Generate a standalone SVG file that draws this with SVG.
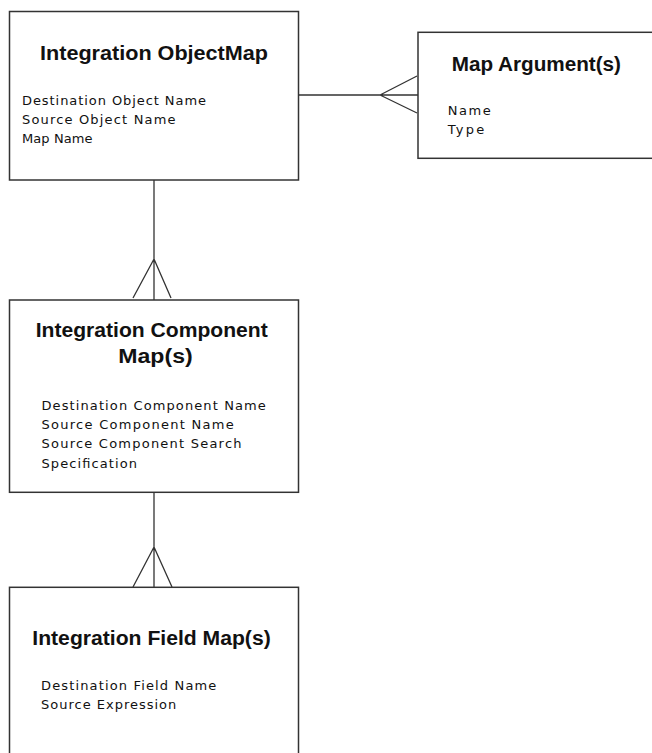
<svg xmlns="http://www.w3.org/2000/svg" width="652" height="753" viewBox="0 0 652 753">
<style>
.box{fill:#fff;stroke:#333;stroke-width:1.5}
.conn{fill:none;stroke:#333;stroke-width:1.3}
.t{font-family:"Liberation Sans",Arial,sans-serif;font-weight:bold;font-size:20px;fill:#111}
.b{font-family:"DejaVu Sans","Liberation Sans",sans-serif;font-size:13px;fill:#111}
</style>
<rect width="652" height="753" fill="#fff"/>
<g id="connectors">
<path class="conn" d="M298.7 95 H418 M380 95 L417 76 M380 95 L417 113"/>
<path class="conn" d="M154 180 V300 M154 259 L133 298 M154 259 L171 298"/>
<path class="conn" d="M154 492 V587 M154 547 L133 587 M154 547 L172 587"/>
</g>
<g id="objectmap">
<rect class="box" x="9.5" y="11.5" width="289" height="168.5"/>
<text class="t" x="40" y="60" textLength="228" lengthAdjust="spacingAndGlyphs">Integration ObjectMap</text>
<text class="b" x="22" y="104.5" textLength="184" lengthAdjust="spacing">Destination Object Name</text>
<text class="b" x="22" y="123.5" textLength="153.5" lengthAdjust="spacing">Source Object Name</text>
<text class="b" x="22" y="142.5" textLength="70.5" lengthAdjust="spacing">Map Name</text>
</g>
<g id="mapargument">
<rect class="box" x="418" y="32.3" width="260" height="126"/>
<text class="t" x="451.7" y="70.5" textLength="169.3" lengthAdjust="spacingAndGlyphs">Map Argument(s)</text>
<text class="b" x="447.7" y="114.8" textLength="43" lengthAdjust="spacing">Name</text>
<text class="b" x="447.7" y="133.5" textLength="36.6" lengthAdjust="spacing">Type</text>
</g>
<g id="componentmap">
<rect class="box" x="9.5" y="300" width="289" height="192.3"/>
<text class="t" x="35.7" y="336.7" textLength="232" lengthAdjust="spacingAndGlyphs">Integration Component</text>
<text class="t" x="118.3" y="363.3" textLength="74.4" lengthAdjust="spacingAndGlyphs">Map(s)</text>
<text class="b" x="41.5" y="410" textLength="224.3" lengthAdjust="spacing">Destination Component Name</text>
<text class="b" x="41.5" y="429.3" textLength="192.3" lengthAdjust="spacing">Source Component Name</text>
<text class="b" x="41.5" y="448.3" textLength="200" lengthAdjust="spacing">Source Component Search</text>
<text class="b" x="41.5" y="467.7" textLength="95.6" lengthAdjust="spacing">Specification</text>
</g>
<g id="fieldmap">
<rect class="box" x="9.5" y="587.3" width="289" height="180"/>
<text class="t" x="32.3" y="645" textLength="238.4" lengthAdjust="spacingAndGlyphs">Integration Field Map(s)</text>
<text class="b" x="41" y="690" textLength="175.3" lengthAdjust="spacing">Destination Field Name</text>
<text class="b" x="41" y="709" textLength="135.3" lengthAdjust="spacing">Source Expression</text>
</g>
</svg>
